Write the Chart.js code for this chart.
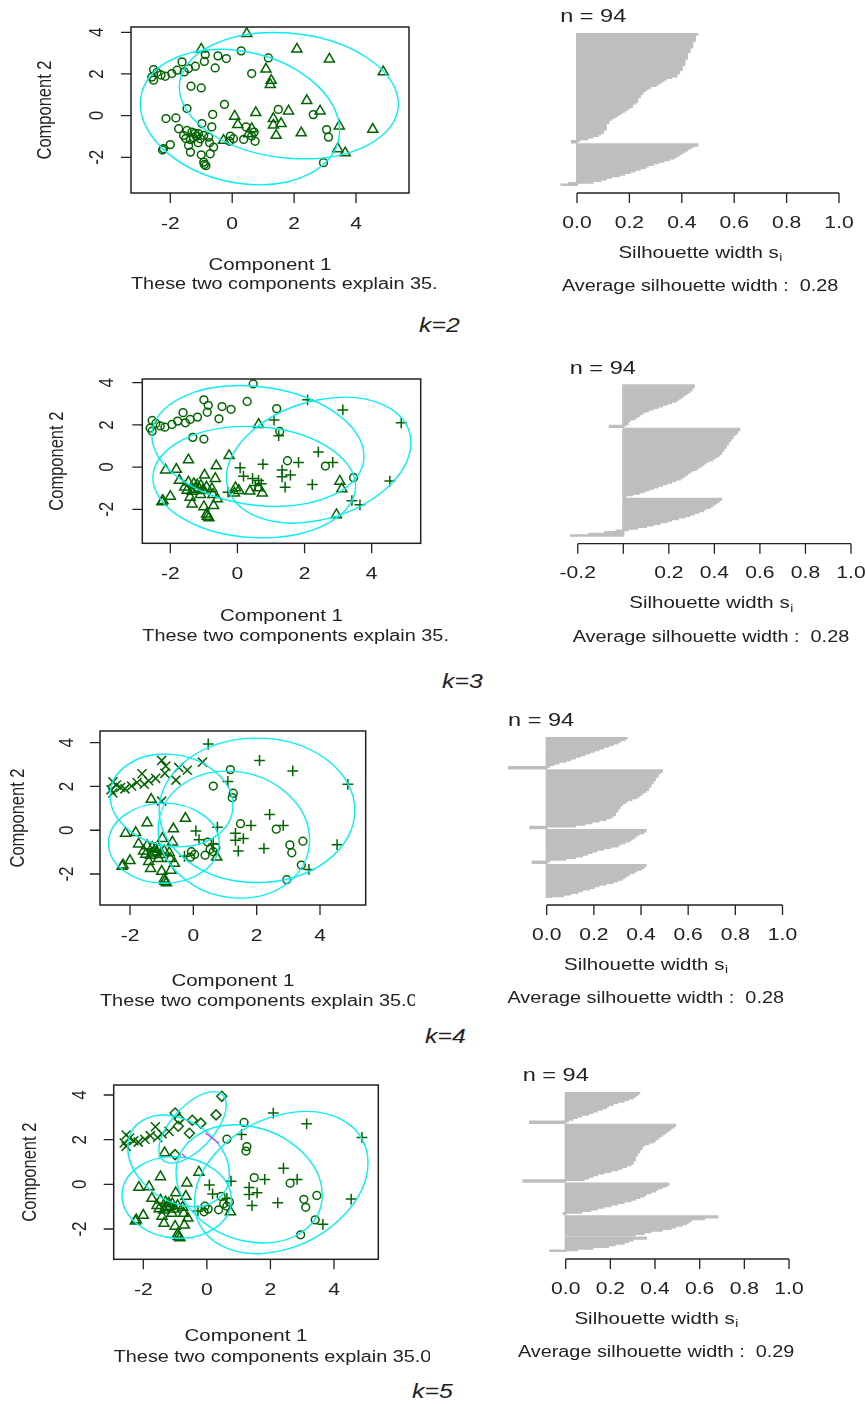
<!DOCTYPE html>
<html>
<head>
<meta charset="utf-8">
<script src="https://cdn.jsdelivr.net/npm/chart.js@4.4.1/dist/chart.umd.min.js"></script>
<style>
  body { margin: 0; background: #fff; width: 866px; height: 1406px; position: relative; overflow: hidden; }
  canvas { position: absolute; }
  .klab { position: absolute; font: italic 20px "Liberation Sans", Arial, sans-serif; color: #222;
          line-height: 20px; transform: scaleX(1.24); transform-origin: 0 0; white-space: nowrap; }
</style>
</head>
<body>
<div class="klab" style="left:419px;top:315px">k=2</div>
<div class="klab" style="left:442px;top:671px">k=3</div>
<div class="klab" style="left:425px;top:1026px">k=4</div>
<div class="klab" style="left:412px;top:1381px">k=5</div>
<script>
// Component 1 / Component 2 coordinates of the 94 observations (same in every panel)
const comp1 = [
  // top-left band
  -2.54, -2.43, -2.54, -2.16, -1.95, -1.78, -1.62, -1.41, -1.19, -2.60, -1.55, -2.30,
  // top middle
  -1.00, -0.87, -0.46, -0.19, 0.29, 0.47, -0.55, -0.90, -1.33, -1.00,
  // upper right
  1.17, 2.09, 3.14, 4.88, 1.09, 1.23, 1.26, 0.63,
  // right
  2.41, 1.82, 2.84, 3.46, 4.54, 1.42, 2.23, 1.33, 1.58, 3.41, 3.65, 1.33, 1.49, 2.62, 3.05, 3.11, 2.95,
  // centre
  0.76, 0.08, 0.18, -0.28, 0.63, 0.53, -0.25, -0.63, -0.06, 0.04, 0.37, 0.63, 0.74, -0.09, 0.71, 0.45,
  // lower-left mass
  -1.46, -1.82, -2.14, -0.98, -0.66, -1.73, -1.46, -1.30, -1.09, -1.16, -0.92, -0.76, -1.57, -1.03,
  -1.41, -1.35, -2.00, -2.22, -1.00, -0.71, -0.92, -0.90, -0.60, -0.73, -1.25, -1.20, -1.35, -0.85,
  -2.25, -1.10, -1.50
];
const comp2 = [
  2.21, 2.07, 1.70, 1.89, 2.02, 2.18, 2.58, 2.26, 2.37, 1.85, 2.10, 1.95,
  3.19, 2.93, 2.87, 2.74, 3.11, 3.94, 2.29, 2.60, 1.41, 1.33,
  2.77, 3.19, 2.71, 2.10, 2.23, 1.49, 1.69, 2.02,
  0.72, 0.22, 0.22, -0.50, -0.66, -0.95, -0.83, -0.46, -0.38, -1.59, -1.79, -0.14, 0.30, 0.05, -0.67, -1.03, -2.26,
  0.14, -0.03, -0.43, -1.19, -0.63, -0.87, 0.54, 0.06, -0.98, -1.11, -1.14, -0.98, -1.23, -1.23, -0.79, -0.54,
  0.34, -0.11, -0.14, -0.38, -0.54, -0.63, -0.71, -0.79, -0.87, -0.99, -0.95, -1.03, -0.95, -1.11,
  -1.43, -1.75, -1.39, -1.59, -1.88, -1.83, -2.23, -2.34, -1.51, -1.30, -1.05, -0.85, -1.15, -2.40,
  -1.65, -1.30, -1.10
];

// cluster membership for k = 2..5 (1 circle, 2 triangle, 3 plus, 4 cross, 5 diamond)
const clusK2 = [
  1, 1, 1, 1, 1, 1, 1, 1, 1, 1, 1, 1,
  2, 1, 1, 1, 1, 2, 1, 1, 1, 1,
  1, 2, 2, 2, 2, 2, 2, 1,
  2, 2, 2, 2, 2, 2, 2, 2, 2, 2, 2, 2, 1, 1, 1, 1, 1,
  2, 2, 2, 2, 2, 2, 1, 1, 1, 1, 1, 1, 1, 1, 1, 1,
  1, 1, 1, 1, 1, 1, 1, 1, 1, 1, 1, 1, 1, 1, 1, 1, 1, 1, 1, 1, 1, 1, 1, 1, 1, 1, 1, 1, 1, 1, 1
];
const clusK3 = [
  1, 1, 1, 1, 1, 1, 1, 1, 1, 1, 1, 1,
  1, 1, 1, 1, 1, 1, 1, 1, 1, 1,
  1, 3, 3, 3, 3, 3, 1, 2,
  3, 3, 3, 1, 3, 3, 3, 3, 3, 3, 3, 3, 1, 1, 2, 2, 2,
  3, 3, 3, 3, 3, 3, 2, 2, 2, 2, 2, 2, 2, 2, 3, 3,
  2, 2, 2, 2, 2, 2, 2, 2, 2, 2, 2, 2, 2, 2, 2, 2, 2, 2, 2, 2, 2, 2, 2, 2, 2, 2, 2, 2, 2, 2, 2
];
const clusK4 = [
  4, 4, 4, 4, 4, 4, 4, 4, 4, 4, 4, 4,
  4, 4, 4, 4, 4, 3, 4, 4, 2, 4,
  1, 3, 3, 3, 3, 1, 1, 1,
  3, 3, 3, 1, 3, 3, 3, 3, 3, 1, 3, 3, 1, 1, 1, 1, 1,
  3, 3, 3, 3, 3, 1, 2, 2, 1, 1, 1, 1, 2, 1, 1, 1,
  2, 2, 2, 2, 2, 2, 2, 2, 2, 2, 2, 2, 2, 2, 2, 2, 2, 2, 2, 2, 2, 2, 2, 2, 2, 2, 2, 2, 2, 2, 2
];
const clusK5 = [
  4, 4, 4, 4, 4, 4, 4, 4, 4, 4, 4, 4,
  5, 5, 5, 5, 5, 5, 5, 5, 2, 5,
  1, 3, 3, 3, 3, 1, 1, 1,
  3, 3, 3, 1, 3, 3, 3, 3, 3, 1, 3, 3, 1, 1, 1, 1, 1,
  3, 3, 3, 3, 3, 1, 2, 2, 1, 1, 1, 1, 2, 1, 1, 1,
  2, 2, 2, 2, 2, 2, 2, 2, 2, 2, 2, 2, 2, 2, 2, 2, 2, 2, 2, 2, 2, 2, 2, 2, 2, 2, 2, 2, 2, 2, 2
];

// cluster hulls: [centre x, centre y, half-width in x, half-height in y, y-offset of rightmost point]
const ellK2 = [[0.25, -0.07, 3.22, 3.25, -0.64], [1.83, 0.96, 3.54, 3.03, -0.40]];
const ellK3 = [[0.61, 1.00, 3.16, 2.86, -0.48], [0.50, -0.71, 3.02, 2.64, -0.20], [2.42, 0.33, 2.75, 2.98, 0.83]];
const ellK4 = [[1.28, -0.20, 2.39, 2.90, -0.25], [-0.93, -0.59, 1.75, 1.83, 0.00],
               [2.01, 0.91, 3.09, 3.30, 0.00], [-0.69, 1.36, 1.94, 2.12, -0.23]];
const ellK5 = [[1.33, 0.02, 2.30, 2.64, -0.50], [-0.95, -0.59, 1.72, 1.83, -0.10],
               [2.34, 0.08, 2.73, 3.18, 0.90], [-0.89, 1.05, 1.60, 2.05, -0.60], [-0.45, 2.55, 1.06, 1.60, 1.00]];
const segK5 = [[[-0.04, 2.29], [0.38, 1.84]], [[-0.78, 1.36], [-0.67, 1.21]]];

// silhouette widths, sorted within each cluster
const silK2 = [
  [0.46, 0.45, 0.45, 0.45, 0.45, 0.44, 0.44, 0.44, 0.44, 0.43, 0.43, 0.43, 0.42, 0.42, 0.42, 0.42, 0.41,
   0.41, 0.41, 0.41, 0.40, 0.40, 0.40, 0.39, 0.39, 0.38, 0.38, 0.36, 0.34, 0.33, 0.32, 0.31, 0.30, 0.28,
   0.27, 0.26, 0.25, 0.25, 0.24, 0.24, 0.23, 0.23, 0.23, 0.22, 0.21, 0.21, 0.20, 0.19, 0.18, 0.17, 0.16,
   0.15, 0.14, 0.13, 0.12, 0.12, 0.11, 0.11, 0.11, 0.11, 0.10, 0.10, 0.09, 0.08, 0.06, 0.04, 0.01, -0.02],
  [0.46, 0.44, 0.43, 0.42, 0.41, 0.40, 0.39, 0.38, 0.37, 0.35, 0.33, 0.31, 0.29, 0.27, 0.26, 0.24, 0.22,
   0.20, 0.18, 0.16, 0.13, 0.11, 0.09, 0.06, -0.03, -0.06]
];
const silK3 = [
  [0.31, 0.31, 0.30, 0.30, 0.29, 0.28, 0.27, 0.26, 0.25, 0.24, 0.23, 0.21, 0.19, 0.17, 0.15, 0.13, 0.11,
   0.09, 0.08, 0.07, 0.06, 0.05, 0.03, 0.02, 0.02, 0.01, -0.06],
  [0.51, 0.50, 0.50, 0.49, 0.48, 0.48, 0.47, 0.47, 0.46, 0.46, 0.45, 0.45, 0.44, 0.44, 0.43, 0.43, 0.42,
   0.41, 0.40, 0.39, 0.37, 0.36, 0.35, 0.34, 0.33, 0.32, 0.30, 0.29, 0.28, 0.27, 0.26, 0.25, 0.23, 0.21,
   0.19, 0.17, 0.15, 0.13, 0.11, 0.09, 0.07, 0.04, 0.01],
  [0.43, 0.42, 0.41, 0.40, 0.39, 0.38, 0.36, 0.35, 0.33, 0.31, 0.29, 0.27, 0.24, 0.21, 0.19, 0.16, 0.13,
   0.10, 0.06, 0.02, -0.03, -0.08, -0.15, -0.23]
];
const silK4 = [
  [0.34, 0.33, 0.31, 0.30, 0.28, 0.26, 0.24, 0.22, 0.20, 0.18, 0.16, 0.14, 0.12, 0.10, 0.08, 0.05, 0.03,
   0.01, -0.16],
  [0.49, 0.48, 0.47, 0.47, 0.46, 0.46, 0.45, 0.45, 0.44, 0.44, 0.43, 0.43, 0.42, 0.41, 0.40, 0.39, 0.38,
   0.36, 0.34, 0.33, 0.32, 0.31, 0.31, 0.30, 0.30, 0.29, 0.29, 0.28, 0.27, 0.25, 0.22, 0.19, 0.16, 0.12, -0.07],
  [0.42, 0.41, 0.39, 0.38, 0.37, 0.36, 0.35, 0.33, 0.31, 0.30, 0.27, 0.24, 0.21, 0.19, 0.17, 0.15, 0.12,
   0.08, 0.01, -0.06],
  [0.42, 0.41, 0.40, 0.38, 0.37, 0.35, 0.34, 0.33, 0.32, 0.30, 0.28, 0.25, 0.22, 0.20, 0.18, 0.15, 0.13,
   0.10, 0.07, 0.02]
];
const silK5 = [
  [0.33, 0.32, 0.31, 0.30, 0.28, 0.26, 0.23, 0.21, 0.19, 0.18, 0.16, 0.14, 0.12, 0.10, 0.07, 0.05, 0.03,
   0.01, -0.16],
  [0.49, 0.48, 0.47, 0.46, 0.45, 0.44, 0.43, 0.42, 0.41, 0.40, 0.39, 0.37, 0.35, 0.34, 0.34, 0.33, 0.33,
   0.32, 0.32, 0.31, 0.31, 0.31, 0.30, 0.30, 0.29, 0.27, 0.25, 0.23, 0.20, 0.17, 0.14, 0.12, 0.10, 0.08, -0.19],
  [0.46, 0.45, 0.43, 0.41, 0.40, 0.38, 0.36, 0.35, 0.33, 0.31, 0.29, 0.26, 0.23, 0.20, 0.17, 0.14, 0.11,
   0.07, -0.01],
  [0.68, 0.62, 0.56, 0.55, 0.54, 0.52, 0.49, 0.47, 0.43, 0.38, 0.35, 0.31],
  [0.36, 0.30, 0.28, 0.26, 0.22, 0.19, 0.12, 0.05, -0.07]
];
const avgSil = ['0.28', '0.28', '0.28', '0.29'];
const nObs = 94;

// axis ticks
const pcTicks = [-2, 0, 2, 4];
const pcTickLabels = ['-2', '0', '2', '4'];
const silTicks = [0, 0.2, 0.4, 0.6, 0.8, 1.0];
const silTickLabels = ['0.0', '0.2', '0.4', '0.6', '0.8', '1.0'];
const silTicksK3 = [-0.2, 0, 0.2, 0.4, 0.6, 0.8, 1.0];
const silTickLabelsK3 = ['-0.2', '', '0.2', '0.4', '0.6', '0.8', '1.0'];

const FONT = '"Liberation Sans", Arial, sans-serif';
const SX = 1.24;          // the figure is stretched a little horizontally
const INK = '#222';
const GREEN = '#006400';

function txt(ctx, s, x, y, align, size, rot) {
  ctx.save();
  ctx.font = size + 'px ' + FONT;
  ctx.textAlign = align;
  ctx.textBaseline = 'middle';
  ctx.translate(x, y);
  ctx.scale(SX, 1);
  if (rot) ctx.rotate(-Math.PI / 2);
  ctx.fillText(s, 0, 0);
  ctx.restore();
}

const rDecor = {
  id: 'rDecor',
  afterDatasetsDraw(chart, args, o) {
    const ctx = chart.ctx, a = chart.chartArea, xs = chart.scales.x, ys = chart.scales.y;
    ctx.save();
    ctx.fillStyle = INK;
    ctx.strokeStyle = INK;
    if (o.kind === 'scatter') {
      // hull ellipses
      ctx.save();
      ctx.beginPath();
      ctx.rect(a.left, a.top, a.width, a.height);
      ctx.clip();
      const ux = xs.getPixelForValue(1) - xs.getPixelForValue(0);
      const uy = ys.getPixelForValue(1) - ys.getPixelForValue(0);
      ctx.strokeStyle = '#0aeef2';
      ctx.lineWidth = 1.4;
      o.ellipses.forEach(([cx, cy, hx, hy, dy]) => {
        ctx.save();
        ctx.beginPath();
        ctx.transform(ux * hx, uy * dy, 0, uy * Math.sqrt(hy * hy - dy * dy),
                      xs.getPixelForValue(cx), ys.getPixelForValue(cy));
        ctx.arc(0, 0, 1, 0, Math.PI * 2);
        ctx.restore();
        ctx.stroke();
      });
      ctx.strokeStyle = '#f030f0';
      (o.segments || []).forEach(([p, q]) => {
        ctx.beginPath();
        ctx.moveTo(xs.getPixelForValue(p[0]), ys.getPixelForValue(p[1]));
        ctx.lineTo(xs.getPixelForValue(q[0]), ys.getPixelForValue(q[1]));
        ctx.stroke();
      });
      ctx.restore();

      // frame and axes
      ctx.lineWidth = 1.5;
      ctx.strokeRect(a.left, a.top, a.width, a.height);
      ctx.lineWidth = 1.3;
      ctx.beginPath();
      pcTicks.forEach(v => {
        const px = xs.getPixelForValue(v);
        ctx.moveTo(px, a.bottom); ctx.lineTo(px, a.bottom + 10);
        const py = ys.getPixelForValue(v);
        ctx.moveTo(a.left, py); ctx.lineTo(a.left - 10, py);
      });
      ctx.stroke();
      pcTicks.forEach((v, i) => {
        txt(ctx, pcTickLabels[i], xs.getPixelForValue(v), a.bottom + 31, 'center', 17);
        txt(ctx, pcTickLabels[i], a.left - o.ytl, ys.getPixelForValue(v), 'center', 17, true);
      });
      const mid = (a.left + a.right) / 2;
      txt(ctx, 'Component 1', mid, a.bottom + o.xl, 'center', 16.5);
      txt(ctx, 'These two components explain 35.05 % of the point variability.', a.left, a.bottom + o.sub, 'left', 16);
      txt(ctx, 'Component 2', a.left - o.ylab, (a.top + a.bottom) / 2, 'center', 16.5, true);
    } else {
      const axisY = a.bottom + 7;
      const tv = o.ticks;
      ctx.lineWidth = 1.3;
      ctx.beginPath();
      ctx.moveTo(xs.getPixelForValue(tv[0]), axisY);
      ctx.lineTo(xs.getPixelForValue(tv[tv.length - 1]), axisY);
      tv.forEach(v => {
        const px = xs.getPixelForValue(v);
        ctx.moveTo(px, axisY); ctx.lineTo(px, axisY + 10);
      });
      ctx.stroke();
      tv.forEach((v, i) => {
        if (o.labels[i]) txt(ctx, o.labels[i], xs.getPixelForValue(v), axisY + 30, 'center', 17);
      });
      const mid = (a.left + a.right) / 2;
      ctx.font = '16.5px ' + FONT;
      const w1 = ctx.measureText('Silhouette width s').width * SX;
      ctx.font = '11px ' + FONT;
      const w2 = ctx.measureText('i').width * SX;
      const x0 = mid - (w1 + w2) / 2;
      txt(ctx, 'Silhouette width s', x0, axisY + 60, 'left', 16.5);
      txt(ctx, 'i', x0 + w1 + 0.5, axisY + 65, 'left', 11);
      txt(ctx, 'Average silhouette width :  ' + o.avg, mid, axisY + 94, 'center', 16);
      txt(ctx, 'n = ' + nObs, a.left + 10, a.top - 16, 'left', 19);
    }
    ctx.restore();
  }
};

const symbolStyle = {
  1: ['circle', 3.9],
  2: ['triangle', 5.8],
  3: ['cross', 5.4],
  4: ['crossRot', 6.4],
  5: ['rectRot', 5.0]
};

function makeCanvas(left, top, w, h) {
  const c = document.createElement('canvas');
  c.width = w; c.height = h;
  c.style.left = left + 'px'; c.style.top = top + 'px';
  c.style.width = w + 'px'; c.style.height = h + 'px';
  document.body.appendChild(c);
  return c;
}

function clusterData(clus, c) {
  const out = [];
  clus.forEach((g, i) => { if (g === c) out.push({ x: comp1[i], y: comp2[i] }); });
  return out;
}

// panel layout (page pixels): plot box and where ticks -2 and 4 fall
const scatterRows = [
  { clus: clusK2, k: 2, ell: ellK2, seg: [], top: 0, w: 437, h: 305, box: [131, 409, 27, 193],
    xCal: [170.3, 356], yCal: [32.3, 157.3], xl: 72, sub: 92, ylab: 86, ytl: 34 },
  { clus: clusK3, k: 3, ell: ellK3, seg: [], top: 345, w: 449, h: 305, box: [142.3, 420.7, 379, 543.3],
    xCal: [170.3, 371.7], yCal: [382.7, 509.3], xl: 73, sub: 93, ylab: 85, ytl: 35 },
  { clus: clusK4, k: 4, ell: ellK4, seg: [], top: 700, w: 415, h: 315, box: [100, 365.7, 731, 905],
    xCal: [130, 320], yCal: [742.7, 874], xl: 76, sub: 97, ylab: 82, ytl: 33 },
  { clus: clusK5, k: 5, ell: ellK5, seg: segK5, top: 1062, w: 430, h: 312, box: [113.7, 378.3, 1085, 1259.3],
    xCal: [143.3, 334], yCal: [1095, 1229], xl: 77, sub: 98, ylab: 83, ytl: 34 }
];

scatterRows.forEach(r => {
  const [L, R, T, B] = r.box;
  const xu = (r.xCal[1] - r.xCal[0]) / 6, yu = (r.yCal[1] - r.yCal[0]) / 6;
  const canvas = makeCanvas(0, r.top, r.w, r.h);
  const datasets = [];
  for (let c = 1; c <= r.k; c++) {
    datasets.push({
      data: clusterData(r.clus, c),
      pointStyle: symbolStyle[c][0],
      pointRadius: symbolStyle[c][1],
      pointBorderWidth: 1.5,
      borderColor: GREEN,
      backgroundColor: 'rgba(0,0,0,0)',
      showLine: false
    });
  }
  new Chart(canvas, {
    type: 'scatter',
    data: { datasets },
    plugins: [rDecor],
    options: {
      responsive: false, animation: false, devicePixelRatio: 1,
      layout: { padding: { left: L, right: r.w - R, top: T - r.top, bottom: r.top + r.h - B } },
      scales: {
        x: { type: 'linear', display: false, min: -2 + (L - r.xCal[0]) / xu, max: 4 + (R - r.xCal[1]) / xu },
        y: { type: 'linear', display: false, min: -2 - (B - r.yCal[1]) / yu, max: 4 + (r.yCal[0] - T) / yu }
      },
      plugins: {
        legend: { display: false }, tooltip: { enabled: false },
        rDecor: { kind: 'scatter', ellipses: r.ell, segments: r.seg, xl: r.xl, sub: r.sub, ylab: r.ylab, ytl: r.ytl }
      }
    }
  });
});

// silhouette panels: pixel of 0 and 1, and vertical span of the bars
const silRows = [
  { sil: silK2, avg: avgSil[0], ticks: silTicks, labels: silTickLabels, top: 0, h: 305, zero: 577, one: 839, bt: 33, bb: 186 },
  { sil: silK3, avg: avgSil[1], ticks: silTicksK3, labels: silTickLabelsK3, top: 345, h: 305, zero: 623.3, one: 851, bt: 384.3, bb: 536.7 },
  { sil: silK4, avg: avgSil[2], ticks: silTicks, labels: silTickLabels, top: 700, h: 315, zero: 546.7, one: 782.5, bt: 737, bb: 898 },
  { sil: silK5, avg: avgSil[3], ticks: silTicks, labels: silTickLabels, top: 1062, h: 320, zero: 565.7, one: 789, bt: 1092, bb: 1252 }
];

silRows.forEach(r => {
  const values = [];
  r.sil.forEach((g, i) => { if (i) values.push(null); values.push(...g); });
  const lo = Math.min(0, ...values.filter(v => v !== null));
  const ext = 0.04 * (1 - lo);
  const xmin = lo - ext, xmax = 1 + ext;
  const u = r.one - r.zero;
  const left = r.zero + xmin * u, right = r.zero + xmax * u;
  const cLeft = 440, cW = 426;
  const canvas = makeCanvas(cLeft, r.top, cW, r.h);
  new Chart(canvas, {
    type: 'bar',
    data: {
      labels: values.map((v, i) => i),
      datasets: [{
        data: values,
        backgroundColor: '#bebebe',
        borderWidth: 0,
        inflateAmount: 0.9,
        barPercentage: 1,
        categoryPercentage: 1
      }]
    },
    plugins: [rDecor],
    options: {
      indexAxis: 'y',
      responsive: false, animation: false, devicePixelRatio: 1,
      layout: { padding: { left: left - cLeft, right: cLeft + cW - right, top: r.bt - r.top, bottom: r.top + r.h - r.bb } },
      scales: {
        x: { type: 'linear', display: false, min: xmin, max: xmax },
        y: { type: 'category', display: false }
      },
      plugins: {
        legend: { display: false }, tooltip: { enabled: false },
        rDecor: { kind: 'sil', ticks: r.ticks, labels: r.labels, avg: r.avg }
      }
    }
  });
});
</script>
</body>
</html>
